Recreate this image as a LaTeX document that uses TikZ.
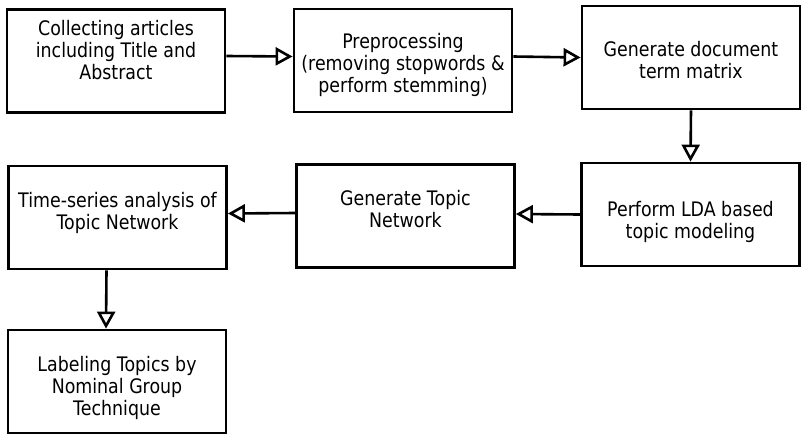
\documentclass[tikz,border=0pt]{standalone}
\usepackage{fontspec}
\setmainfont{DejaVu Sans}[FakeStretch=0.87]
\usetikzlibrary{arrows.meta}

\begin{document}
\begin{tikzpicture}[x=1pt,y=-1pt,
	box/.style={draw,line width=2.8pt,align=center,inner sep=0pt,font=\fontsize{20}{22}\selectfont,minimum width=218pt,minimum height=103pt},
	arr/.style={line width=2.6pt,-{Triangle[open,length=17pt,width=18pt,line width=2.6pt]}}]
	\fill[white] (0,0) rectangle (804,437);
	\useasboundingbox (0,0) rectangle (804,437);
	% first row
	\node[box] (collect) at (116,61) {Collecting articles\\including Title and\\Abstract\\~};
	\node[box] (prep) at (403,60.5) {~\\[2pt]Preprocessing\\(removing stopwords \&\\perform stemming)};
	\node[box] (dtm) at (691,57.5) {~\\[-2pt]Generate document\\term matrix};
	% second row
	\node[box] (lda) at (690.5,214.5) {~\\[8pt]Perform LDA based\\topic modeling};
	\node[box] (net) at (405.5,216) {Generate Topic\\Network\\[-8pt]~};
	\node[box] (ts) at (117.5,217.5) {Time-series analysis of\\Topic Network\\[-8pt]~};
	% third row
	\node[box] (ngt) at (117,381.5) {~\\[6pt]Labeling Topics by\\Nominal Group\\Technique};
	\draw[arr] ([yshift=5pt]collect.east) -- ([yshift=4pt]prep.west);
	\draw[arr] ([yshift=4pt]prep.east) -- ([yshift=0pt]dtm.west);
	\draw[arr] (dtm.south) -- (lda.north);
	\draw[arr] (lda.west) -- ([yshift=2pt]net.east);
	\draw[arr] ([yshift=3pt]net.west) -- ([yshift=4pt]ts.east);
	\draw[arr] ([xshift=-11pt]ts.south) -- ([xshift=-11pt]ngt.north);
\end{tikzpicture}
\end{document}
